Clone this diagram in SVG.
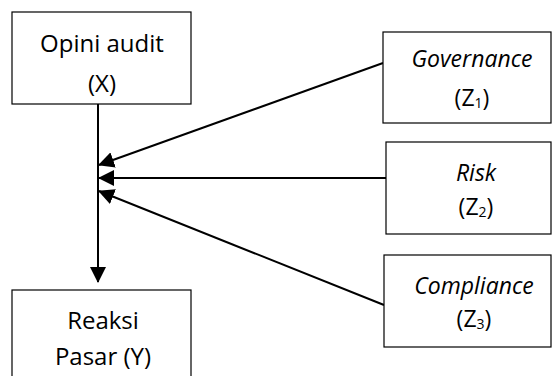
<svg xmlns="http://www.w3.org/2000/svg" width="552" height="376" viewBox="0 0 552 376">
<defs>
<style>
.box{fill:#fff;stroke:#000;stroke-width:1.2}
.t{font-family:"Open Sans","Liberation Sans",sans-serif;font-size:24px;fill:#000;text-anchor:middle}
.r{font-size:23px}
.i{font-style:italic}
.sub{font-size:14px}
.c{stroke:#000;stroke-width:2;fill:none}
</style>
<marker id="ah2" markerWidth="16" markerHeight="16" refX="15" refY="8" orient="auto" markerUnits="userSpaceOnUse" viewBox="0 0 16 16">
<path d="M0,0 L16,8 L0,16 Z" fill="#000"/>
</marker>
</defs>
<g id="connectors">
<line class="c" x1="98" y1="104" x2="98" y2="282" marker-end="url(#ah2)"/>
<line class="c" x1="383" y1="63" x2="99" y2="165" marker-end="url(#ah2)"/>
<line class="c" x1="386" y1="178" x2="99" y2="178" marker-end="url(#ah2)"/>
<line class="c" x1="384" y1="305" x2="99" y2="191" marker-end="url(#ah2)"/>
</g>
<g id="x">
<rect class="box" x="12" y="12" width="179" height="92"/>
<text class="t" x="102" y="52">Opini audit</text>
<text class="t" x="102" y="92">(X)</text>
</g>
<g id="z1">
<rect class="box" x="383" y="32" width="168" height="91"/>
<text class="t r i" x="472" y="67">Governance</text>
<text class="t r" x="472" y="106">(Z<tspan class="sub" dy="2">1</tspan><tspan dy="-2">)</tspan></text>
</g>
<g id="z2">
<rect class="box" x="386" y="142" width="165" height="92"/>
<text class="t r i" x="476" y="181">Risk</text>
<text class="t r" x="476" y="215">(Z<tspan class="sub" dy="2">2</tspan><tspan dy="-2">)</tspan></text>
</g>
<g id="z3">
<rect class="box" x="384" y="255" width="167" height="92"/>
<text class="t r i" x="474" y="294">Compliance</text>
<text class="t r" x="474" y="327">(Z<tspan class="sub" dy="2">3</tspan><tspan dy="-2">)</tspan></text>
</g>
<g id="y">
<rect class="box" x="12" y="290" width="179" height="90"/>
<text class="t" x="103" y="329">Reaksi</text>
<text class="t" x="103" y="365">Pasar (Y)</text>
</g>
</svg>
